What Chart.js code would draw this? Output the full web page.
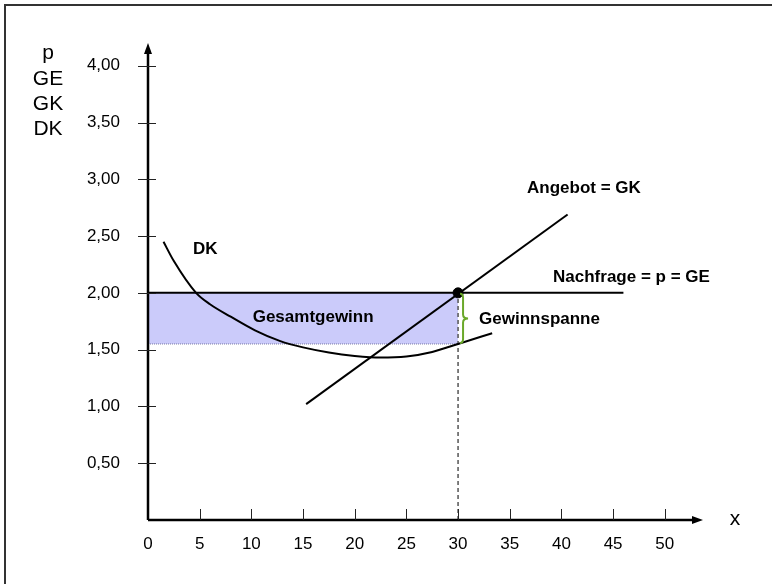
<!DOCTYPE html>
<html>
<head>
<meta charset="utf-8">
<script src="https://cdn.jsdelivr.net/npm/chart.js@4/dist/chart.umd.min.js"></script>
<style>
  html, body { margin: 0; padding: 0; background: #fff; }
  #wrap { width: 772px; height: 584px; position: relative; }
</style>
</head>
<body>
<div id="wrap"><canvas id="c" width="772" height="584"></canvas></div>
<script>
// ---- data ----
const xTicks = [0, 5, 10, 15, 20, 25, 30, 35, 40, 45, 50];
const yTicks = [0.5, 1.0, 1.5, 2.0, 2.5, 3.0, 3.5, 4.0];
const yTitleLines = ['p', 'GE', 'GK', 'DK'];
const xTitle = 'x';

const dkX = [1.5, 2.5, 4.65, 6, 8, 10.35, 12.8, 15, 17.5, 20, 22.5, 25, 27.5, 30, 33.3];
const dkY = [2.45, 2.28, 2.00, 1.90, 1.79, 1.67, 1.575, 1.52, 1.475, 1.445, 1.43, 1.44, 1.48, 1.55, 1.645];

const angebotX = [15.3, 40.6];
const angebotY = [1.02, 2.69];

const nachfrageX = [0, 46];
const nachfrageY = [2.0, 2.0];

const mengeX = 30;          // optimal quantity
const preis = 2.0;          // price = GE
const dkAtMenge = 1.55;     // DK at the optimum

const labels = {
  dk: 'DK',
  angebot: 'Angebot = GK',
  nachfrage: 'Nachfrage = p = GE',
  gesamt: 'Gesamtgewinn',
  spanne: 'Gewinnspanne'
};

const pts = (xs, ys) => xs.map((x, i) => ({ x: x, y: ys[i] }));

const FONT = '"Liberation Sans", Arial, sans-serif';

// ---- custom drawing of axes, ticks, text ----
const decor = {
  id: 'decor',
  beforeDraw(chart) {
    const ctx = chart.ctx;
    ctx.save();
    ctx.fillStyle = '#fff';
    ctx.fillRect(0, 0, chart.width, chart.height);
    ctx.strokeStyle = '#333';
    ctx.lineWidth = 2;
    ctx.beginPath();
    ctx.moveTo(5, chart.height);
    ctx.lineTo(5, 5);
    ctx.lineTo(chart.width, 5);
    ctx.stroke();
    ctx.restore();
  },
  afterDatasetsDraw(chart) {
    const ctx = chart.ctx;
    const xs = chart.scales.x, ys = chart.scales.y;
    const x0 = xs.getPixelForValue(0), y0 = ys.getPixelForValue(0);
    const xEnd = xs.getPixelForValue(xs.max), yEnd = ys.getPixelForValue(ys.max);
    ctx.save();

    // brace (Gewinnspanne)
    const bx = xs.getPixelForValue(mengeX) + 4;
    const bt = ys.getPixelForValue(preis) + 1;
    const bb = ys.getPixelForValue(dkAtMenge) - 1;
    const bm = (bt + bb) / 2;
    ctx.strokeStyle = '#6aa82a';
    ctx.lineWidth = 2;
    ctx.beginPath();
    ctx.moveTo(bx - 2, bt);
    ctx.quadraticCurveTo(bx + 1, bt, bx + 1, bt + 4);
    ctx.lineTo(bx + 1, bm - 4);
    ctx.quadraticCurveTo(bx + 1, bm, bx + 6, bm);
    ctx.quadraticCurveTo(bx + 1, bm, bx + 1, bm + 4);
    ctx.lineTo(bx + 1, bb - 4);
    ctx.quadraticCurveTo(bx + 1, bb, bx - 2, bb);
    ctx.stroke();

    // axes with arrows
    ctx.strokeStyle = '#000';
    ctx.fillStyle = '#000';
    ctx.lineWidth = 2.5;
    ctx.beginPath();
    ctx.moveTo(x0, y0);
    ctx.lineTo(xEnd - 8, y0);
    ctx.moveTo(x0, y0);
    ctx.lineTo(x0, yEnd + 8);
    ctx.stroke();
    ctx.beginPath();
    ctx.moveTo(xEnd, y0);
    ctx.lineTo(xEnd - 11, y0 - 4);
    ctx.lineTo(xEnd - 11, y0 + 4);
    ctx.closePath();
    ctx.fill();
    ctx.beginPath();
    ctx.moveTo(x0, yEnd);
    ctx.lineTo(x0 - 4, yEnd + 11);
    ctx.lineTo(x0 + 4, yEnd + 11);
    ctx.closePath();
    ctx.fill();

    // tick marks
    ctx.lineWidth = 1;
    ctx.strokeStyle = '#222';
    ctx.beginPath();
    xs.ticks.forEach(t => {
      if (t.value === 0) return;
      const px = Math.round(xs.getPixelForValue(t.value)) + 0.5;
      ctx.moveTo(px, y0 - 11);
      ctx.lineTo(px, y0);
    });
    ys.ticks.forEach(t => {
      if (t.value === 0) return;
      const py = Math.round(ys.getPixelForValue(t.value)) + 0.5;
      ctx.moveTo(x0 - 10, py);
      ctx.lineTo(x0 + 8, py);
    });
    ctx.stroke();

    // axis titles
    ctx.fillStyle = '#000';
    ctx.font = '21px ' + FONT;
    ctx.textAlign = 'center';
    ctx.textBaseline = 'alphabetic';
    const base = [59, 85, 110, 135];
    yTitleLines.forEach((s, i) => ctx.fillText(s, 48, base[i]));
    ctx.fillText(xTitle, 735, y0 + 5);

    // annotations (anchored in data coordinates)
    ctx.font = 'bold 17px ' + FONT;
    ctx.textAlign = 'left';
    const notes = [
      [labels.dk, 4.35, 2.34],
      [labels.angebot, 36.67, 2.88],
      [labels.nachfrage, 39.19, 2.10],
      [labels.gesamt, 10.13, 1.743],
      [labels.spanne, 32.03, 1.725]
    ];
    notes.forEach(n => ctx.fillText(n[0], xs.getPixelForValue(n[1]), ys.getPixelForValue(n[2])));
    ctx.restore();
  }
};

new Chart(document.getElementById('c'), {
  type: 'scatter',
  data: {
    datasets: [
      { // top of profit rectangle
        data: pts([0, mengeX], [preis, preis]),
        showLine: true, borderWidth: 0, pointRadius: 0,
        backgroundColor: 'rgba(200,200,250,0.95)', fill: '+1', order: 5
      },
      { // bottom of profit rectangle (dotted)
        data: pts([0, mengeX], [dkAtMenge, dkAtMenge]),
        showLine: true, borderWidth: 1, borderDash: [1, 1], borderColor: '#7a7aa8',
        pointRadius: 0, fill: false, order: 4
      },
      { // dashed vertical at optimum
        data: pts([mengeX, mengeX], [0, preis]),
        showLine: true, borderWidth: 1.5, borderDash: [4, 3], borderColor: '#555',
        pointRadius: 0, fill: false, order: 3
      },
      { // Nachfrage
        data: pts(nachfrageX, nachfrageY),
        showLine: true, borderWidth: 2, borderColor: '#000', pointRadius: 0, fill: false, order: 2
      },
      { // Angebot
        data: pts(angebotX, angebotY),
        showLine: true, borderWidth: 2, borderColor: '#000', pointRadius: 0, fill: false, order: 2
      },
      { // DK curve
        data: pts(dkX, dkY),
        showLine: true, borderWidth: 2, borderColor: '#000', pointRadius: 0, fill: false,
        cubicInterpolationMode: 'monotone', order: 2
      },
      { // equilibrium point
        data: pts([mengeX], [preis]),
        pointRadius: 5, pointBackgroundColor: '#000', pointBorderColor: '#000', order: 1
      }
    ]
  },
  options: {
    responsive: false,
    animation: false,
    events: [],
    layout: { padding: { left: 0, top: 43, right: 69, bottom: 0 } },
    plugins: { legend: { display: false }, tooltip: { enabled: false } },
    scales: {
      x: {
        type: 'linear', min: 0, max: 53.7,
        grid: { display: false }, border: { display: false },
        afterFit: s => { s.height = 64; },
        ticks: {
          stepSize: 5, includeBounds: false, padding: 6, maxRotation: 0, autoSkip: false,
          color: '#000', font: { family: FONT, size: 17 },
          callback: v => String(v)
        },
        afterBuildTicks: s => { s.ticks = xTicks.map(v => ({ value: v })); }
      },
      y: {
        type: 'linear', min: 0, max: 4.2,
        grid: { display: false }, border: { display: false },
        afterFit: s => { s.width = 148; },
        ticks: {
          stepSize: 0.5, includeBounds: false, padding: 20, autoSkip: false,
          color: '#000', font: { family: FONT, size: 17 },
          callback: v => v === 0 ? '' : v.toFixed(2).replace('.', ',')
        },
        afterBuildTicks: s => { s.ticks = yTicks.map(v => ({ value: v })); }
      }
    }
  },
  plugins: [decor]
});
</script>
</body>
</html>
